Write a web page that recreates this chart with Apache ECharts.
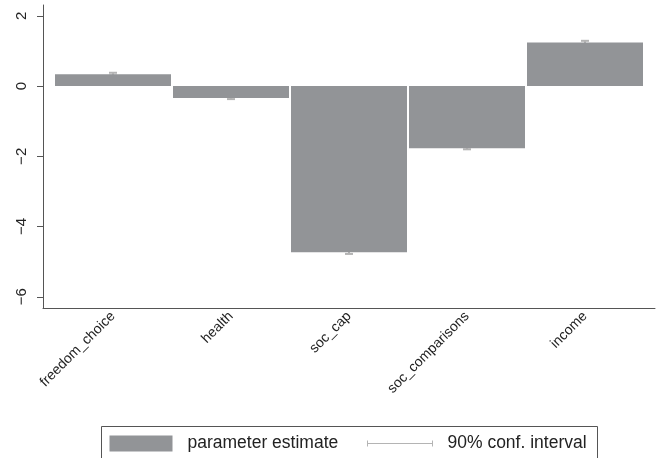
<!DOCTYPE html>
<html>
<head>
<meta charset="utf-8">
<script src="https://cdn.jsdelivr.net/npm/echarts@6/dist/echarts.min.js"></script>
<style>
  html, body { margin: 0; padding: 0; background: #fff; }
  #chart { width: 661px; height: 458px; }
</style>
</head>
<body>
<div id="chart"></div>
<script>
// Coefficient estimates with 90% confidence bounds
const categories = ['freedom_choice', 'health', 'soc_cap', 'soc_comparisons', 'income'];
const estimates = [0.34, -0.34, -4.73, -1.77, 1.245];
const ciLow = [0.30, -0.37, -4.78, -1.80, 1.20];
const ciHigh = [0.38, -0.31, -4.68, -1.74, 1.29];
const yTicks = [-6, -4, -2, 0, 2];

const Y_MIN = -6.32, Y_MAX = 2.31;
const FONT = "'Liberation Sans', Arial, Helvetica, sans-serif";
const BAR_COLOR = '#929497';
const AXIS_COLOR = '#555555';
const CI_COLOR = '#b4b4b4';

const chart = echarts.init(document.getElementById('chart'), null, { renderer: 'canvas' });

const gridPos = { top: 5, bottom: 150 };

const option = {
  animation: false,
  backgroundColor: '#ffffff',
  grid: [
    // plot frame with the axes
    { left: 43, right: 6, top: gridPos.top, bottom: gridPos.bottom },
    // bars and their category labels
    { left: 54, width: 590, top: gridPos.top, bottom: gridPos.bottom }
  ],
  xAxis: [
    {
      gridIndex: 0, type: 'value', min: 0, max: 1,
      axisLine: { show: true, onZero: false, lineStyle: { color: AXIS_COLOR, width: 1 } },
      axisTick: { show: false }, axisLabel: { show: false }, splitLine: { show: false }
    },
    {
      gridIndex: 1, type: 'category', data: categories,
      axisLine: { show: false }, axisTick: { show: false },
      axisLabel: {
        show: true, interval: 0, rotate: 45, margin: 6,
        fontFamily: FONT, fontSize: 14, color: '#222'
      }
    }
  ],
  yAxis: [
    {
      gridIndex: 0, type: 'value', min: Y_MIN, max: Y_MAX,
      axisLine: { show: true, onZero: false, lineStyle: { color: AXIS_COLOR, width: 1 } },
      axisTick: { show: true, length: 6, customValues: yTicks, lineStyle: { color: AXIS_COLOR } },
      axisLabel: {
        show: true, customValues: yTicks, rotate: 90, margin: 14,
        fontFamily: FONT, fontSize: 15, color: '#222',
        formatter: v => (v < 0 ? '\u2212' + Math.abs(v) : String(v))
      },
      splitLine: { show: false }
    },
    { gridIndex: 1, type: 'value', min: Y_MIN, max: Y_MAX, show: false, splitLine: { show: false } }
  ],
  series: [
    {
      name: 'parameter estimate', type: 'bar',
      xAxisIndex: 1, yAxisIndex: 1,
      data: estimates, barWidth: 116,
      itemStyle: { color: BAR_COLOR },
      z: 3
    },
    {
      // drawn beneath the bars, so only the part outside a bar shows
      name: '90% conf. interval', type: 'custom',
      xAxisIndex: 1, yAxisIndex: 1,
      data: categories.map((c, i) => [i, ciLow[i], ciHigh[i]]),
      z: 2,
      renderItem: function (params, api) {
        const i = api.value(0);
        const lo = api.coord([i, api.value(1)]);
        const hi = api.coord([i, api.value(2)]);
        const hw = 4;
        const style = { stroke: CI_COLOR, lineWidth: 2 };
        return {
          type: 'group',
          children: [
            { type: 'line', shape: { x1: lo[0], y1: lo[1], x2: hi[0], y2: hi[1] }, style },
            { type: 'line', shape: { x1: lo[0] - hw, y1: lo[1], x2: lo[0] + hw, y2: lo[1] }, style },
            { type: 'line', shape: { x1: hi[0] - hw, y1: hi[1], x2: hi[0] + hw, y2: hi[1] }, style }
          ]
        };
      }
    }
  ],
  graphic: [
    {
      type: 'group', left: 101, top: 426,
      children: [
        { type: 'rect', shape: { x: 0, y: 0, width: 496, height: 60 },
          style: { fill: '#fff', stroke: AXIS_COLOR, lineWidth: 1 } },
        { type: 'rect', shape: { x: 8, y: 9, width: 63, height: 16 },
          style: { fill: BAR_COLOR } },
        { type: 'text', x: 86, y: 17,
          style: { text: 'parameter estimate', fontFamily: FONT, fontSize: 17.5,
                   fill: '#222', verticalAlign: 'middle' } },
        { type: 'line', shape: { x1: 266, y1: 17, x2: 331, y2: 17 },
          style: { stroke: CI_COLOR, lineWidth: 1 } },
        { type: 'line', shape: { x1: 266, y1: 14, x2: 266, y2: 20 },
          style: { stroke: CI_COLOR, lineWidth: 1 } },
        { type: 'line', shape: { x1: 331, y1: 14, x2: 331, y2: 20 },
          style: { stroke: CI_COLOR, lineWidth: 1 } },
        { type: 'text', x: 346, y: 17,
          style: { text: '90% conf. interval', fontFamily: FONT, fontSize: 17.5,
                   fill: '#222', verticalAlign: 'middle' } }
      ]
    }
  ]
};

chart.setOption(option);
</script>
</body>
</html>
